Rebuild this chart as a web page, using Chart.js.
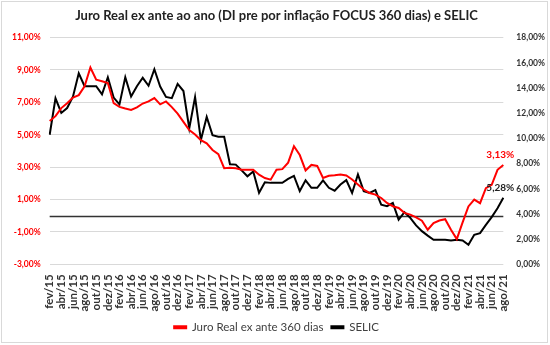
<!DOCTYPE html>
<html>
<head>
<meta charset="utf-8">
<script src="https://cdn.jsdelivr.net/npm/chart.js@4.4.1/dist/chart.umd.min.js"></script>
<style>
  html, body { margin: 0; padding: 0; background: #fff; }
  canvas { display: block; }
</style>
</head>
<body>
<canvas id="juro-chart" width="550" height="345"></canvas>
<script>
// meses de fev/15 a ago/21
var months = [
  'fev/15','mar/15','abr/15','mai/15','jun/15','jul/15','ago/15','set/15','out/15','nov/15','dez/15',
  'jan/16','fev/16','mar/16','abr/16','mai/16','jun/16','jul/16','ago/16','set/16','out/16','nov/16','dez/16',
  'jan/17','fev/17','mar/17','abr/17','mai/17','jun/17','jul/17','ago/17','set/17','out/17','nov/17','dez/17',
  'jan/18','fev/18','mar/18','abr/18','mai/18','jun/18','jul/18','ago/18','set/18','out/18','nov/18','dez/18',
  'jan/19','fev/19','mar/19','abr/19','mai/19','jun/19','jul/19','ago/19','set/19','out/19','nov/19','dez/19',
  'jan/20','fev/20','mar/20','abr/20','mai/20','jun/20','jul/20','ago/20','set/20','out/20','nov/20','dez/20',
  'jan/21','fev/21','mar/21','abr/21','mai/21','jun/21','jul/21','ago/21'
];

// juro real ex ante 360 dias (eixo esquerdo, %)
var juroReal = [
  5.85, 6.15, 6.65, 6.95, 7.30, 7.45, 8.00, 9.15, 8.40, 8.30,
  8.20, 6.95, 6.72, 6.62, 6.53, 6.69, 6.93, 7.06, 7.27, 6.88,
  7.06, 6.71, 6.31, 5.80, 5.29, 5.02, 4.67, 4.47, 4.06, 3.80,
  2.94, 2.97, 2.93, 2.84, 2.84, 2.84, 2.54, 2.33, 2.23, 2.84,
  2.88, 3.28, 4.29, 3.75, 2.80, 3.14, 3.08, 2.33, 2.47, 2.50,
  2.55, 2.49, 2.24, 1.93, 1.62, 1.41, 1.31, 1.10, 0.79, 0.59,
  0.48, 0.18, 0.07, -0.10, -0.30, -0.86, -0.45, -0.29, -0.21, -0.86,
  -1.44, -0.41, 0.58, 1.00, 0.78, 1.71, 1.91, 2.84, 3.13
];

// SELIC (eixo direito, %)
var selic = [
  10.29, 13.18, 12.02, 12.41, 13.31, 15.17, 14.14, 14.14, 14.14, 13.50,
  14.85, 13.24, 12.70, 14.85, 13.32, 14.14, 14.81, 14.18, 15.49, 14.12,
  13.29, 13.19, 14.32, 13.76, 10.80, 13.28, 9.87, 11.70, 10.26, 10.13,
  10.13, 7.95, 7.92, 7.46, 6.99, 7.38, 5.68, 6.52, 6.47, 6.47,
  6.47, 6.78, 7.03, 5.82, 6.67, 6.08, 6.08, 6.67, 6.08, 5.85,
  6.34, 6.69, 5.67, 7.14, 5.81, 5.67, 5.89, 4.74, 4.62, 4.87,
  3.55, 4.14, 3.69, 3.09, 2.64, 2.28, 1.95, 1.95, 1.95, 1.90,
  1.95, 1.90, 1.56, 2.35, 2.48, 3.14, 3.75, 4.46, 5.28
];

var leftTicks = { min: -3, max: 11, step: 2 };
var rightTicks = { min: 0, max: 18, step: 2 };

var fontFamily = 'Lato, "Open Sans", sans-serif';

function pct(v) {
  return v.toFixed(2).replace('.', ',') + '%';
}

// moldura cinza em volta do gráfico
var framePlugin = {
  id: 'frame',
  beforeDraw: function(chart) {
    var c = chart.ctx;
    c.save();
    c.fillStyle = '#ffffff';
    c.fillRect(0, 0, chart.width, chart.height);
    c.strokeStyle = '#d9d9d9';
    c.lineWidth = 1;
    c.strokeRect(1.5, 1.5, chart.width - 4, chart.height - 4);
    c.restore();
  }
};

// linha do zero no eixo esquerdo
var zeroLinePlugin = {
  id: 'zeroLine',
  beforeDatasetsDraw: function(chart) {
    var y = Math.round(chart.scales.y.getPixelForValue(0)) + 0.5;
    var area = chart.chartArea;
    var c = chart.ctx;
    c.save();
    c.strokeStyle = '#333333';
    c.lineWidth = 1.5;
    c.beginPath();
    c.moveTo(area.left, y);
    c.lineTo(area.right, y);
    c.stroke();
    c.restore();
  }
};

// rótulos do último ponto
var lastLabelPlugin = {
  id: 'lastLabel',
  afterDatasetsDraw: function(chart) {
    var c = chart.ctx;
    c.save();
    c.font = 'bold 10px ' + fontFamily;
    c.textAlign = 'center';
    c.textBaseline = 'bottom';
    chart.data.datasets.forEach(function(ds, i) {
      var meta = chart.getDatasetMeta(i);
      var pt = meta.data[meta.data.length - 1];
      var val = ds.data[ds.data.length - 1];
      c.fillStyle = ds.labelColor;
      c.fillText(pct(val), pt.x - 3, pt.y - 5);
    });
    c.restore();
  }
};

var ctx = document.getElementById('juro-chart');
var myChart = new Chart(ctx, {
  type: 'line',
  data: {
    labels: months,
    datasets: [{
      label: 'Juro Real ex ante 360 dias',
      data: juroReal,
      yAxisID: 'y',
      borderColor: '#ff0000',
      backgroundColor: '#ff0000',
      labelColor: '#ff0000',
      borderWidth: 2,
      pointRadius: 0,
      tension: 0
    }, {
      label: 'SELIC',
      data: selic,
      yAxisID: 'y1',
      borderColor: '#000000',
      backgroundColor: '#000000',
      labelColor: '#222222',
      borderWidth: 2,
      pointRadius: 0,
      tension: 0
    }]
  },
  options: {
    responsive: false,
    animation: false,
    layout: { padding: { left: 3, right: 0, top: 0, bottom: 2 } },
    plugins: {
      title: {
        display: true,
        text: 'Juro Real ex ante ao ano (DI pre por inflação FOCUS 360 dias) e SELIC',
        color: '#222222',
        font: { family: fontFamily, size: 13, weight: 'bold' },
        padding: { top: 8, bottom: 14 }
      },
      legend: {
        position: 'bottom',
        labels: {
          color: '#404040',
          font: { family: fontFamily, size: 11.5 },
          boxWidth: 12,
          boxHeight: 2,
          padding: 8
        }
      },
      tooltip: { enabled: false }
    },
    scales: {
      x: {
        grid: { display: false },
        border: { display: false },
        ticks: {
          color: '#333333',
          font: { family: fontFamily, size: 11.5, weight: 'bold' },
          autoSkip: false,
          minRotation: 90,
          maxRotation: 90,
          padding: 2,
          callback: function(val, idx) {
            return idx % 2 === 0 ? months[idx] : '';
          }
        }
      },
      y: {
        position: 'left',
        min: leftTicks.min,
        max: leftTicks.max,
        grid: { color: '#d9d9d9', drawTicks: false },
        border: { display: false },
        ticks: {
          stepSize: leftTicks.step,
          color: '#ff0000',
          font: { family: fontFamily, size: 8.5, weight: 'bold' },
          padding: 9,
          callback: function(v) { return pct(v); }
        }
      },
      y1: {
        position: 'right',
        min: rightTicks.min,
        max: rightTicks.max,
        grid: { display: false },
        border: { display: false },
        ticks: {
          stepSize: rightTicks.step,
          color: '#333333',
          font: { family: fontFamily, size: 8.5, weight: 'bold' },
          padding: 5,
          callback: function(v) { return pct(v); }
        }
      }
    }
  },
  plugins: [framePlugin, zeroLinePlugin, lastLabelPlugin]
});
</script>
</body>
</html>
